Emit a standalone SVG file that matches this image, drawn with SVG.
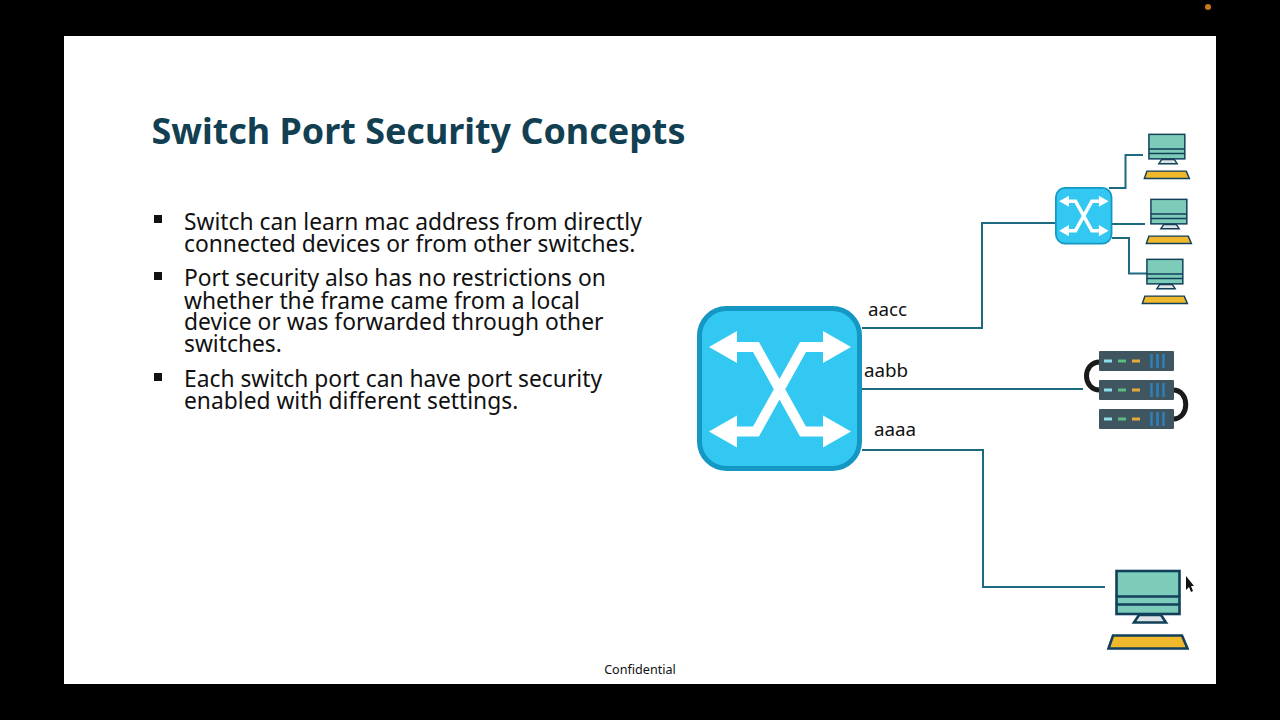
<svg xmlns="http://www.w3.org/2000/svg" xmlns:xlink="http://www.w3.org/1999/xlink" width="1280" height="720" viewBox="0 0 1280 720">
<style>
text{font-family:"Noto Sans","Open Sans","Liberation Sans",sans-serif;fill:#111}
.title{font-size:35.900px;font-weight:700;fill:#123f52}
.body{font-size:22.800px}
.lab{font-size:18.800px}
.conn{fill:none;stroke:#1d6a80;stroke-width:2}
.bez{fill:#33c8f2;stroke:#1597c4;stroke-width:5}
.arr{fill:none;stroke:#fff;stroke-width:10;stroke-linejoin:miter}
.bar{fill:#3f5560}
.cable{fill:none;stroke:#1a1a1a;stroke-width:5}
.scr{fill:#7dccb9;stroke:#123f5a;stroke-width:2.600}
.ln{stroke:#123f5a;stroke-width:2.600;fill:none}
.std{fill:#dde3e6;stroke:#123f5a;stroke-width:2.600}
.kbd{fill:#f0b92d;stroke:#123f5a;stroke-width:2.600}
</style>
<defs>
<symbol id="sw" overflow="visible">
<rect class="bez" x="2.500" y="2.500" width="160" height="160" rx="27"/>
<path class="arr" d="M40 41H59L106 125.500H126M126 41H106L59 125.500H40"/>
<path fill="#fff" d="M12 41L40 25V57ZM154 41L126 25V57ZM12 125.500L40 109.500V141.500ZM154 125.500L126 109.500V141.500Z"/>
</symbol>
<symbol id="pc" overflow="visible">
<rect class="scr" x="9.500" y="1.500" width="63" height="43"/>
<path class="ln" d="M9.500 27H72.500M9.500 35H72.500"/>
<path class="std" d="M32 45.500H54L59 53H27Z"/>
<path class="kbd" d="M6 66H75L80.500 79H1.500Z"/>
</symbol>
</defs>
<rect width="1280" height="720" fill="#000"/>
<circle cx="1208" cy="7" r="3" fill="#c8761e"/>
<rect x="64" y="36" width="1152" height="648" fill="#fff"/>
<text class="title" x="151.500" y="144">Switch Port Security Concepts</text>
<g fill="#111">
<rect x="154" y="215" width="8" height="8"/>
<rect x="154" y="272" width="8" height="8"/>
<rect x="154" y="373" width="8" height="8"/>
</g>
<g>
<text class="body" x="184" y="229.500">Switch can learn mac address from directly</text>
<text class="body" x="184" y="252">connected devices or from other switches.</text>
<text class="body" x="184" y="285.500">Port security also has no restrictions on</text>
<text class="body" x="184" y="308.500">whether the frame came from a local</text>
<text class="body" x="184" y="330">device or was forwarded through other</text>
<text class="body" x="184" y="352">switches.</text>
<text class="body" x="184" y="386.500">Each switch port can have port security</text>
<text class="body" x="184" y="408.500">enabled with different settings.</text>
</g>
<g id="connectors">
<path class="conn" d="M862 328H982V223H1055"/>
<path class="conn" d="M862 389H1083"/>
<path class="conn" d="M862 450H983V587H1105"/>
<path class="conn" d="M1109 188H1125.500V155H1143"/>
<path class="conn" d="M1112 224H1145"/>
<path class="conn" d="M1112 238H1129V273.500H1147"/>
</g>
<g id="switch-main"><use href="#sw" x="697" y="306"/></g>
<g id="switch-small"><use href="#sw" transform="translate(1055 187) scale(.348)"/></g>
<g id="pc-1"><use href="#pc" transform="translate(1143.500 133.500) scale(.57)"/></g>
<g id="pc-2"><use href="#pc" transform="translate(1145.500 198.500) scale(.57)"/></g>
<g id="pc-3"><use href="#pc" transform="translate(1141.500 258.500) scale(.57)"/></g>
<g id="server">
<path class="cable" d="M1100 362C1082 362 1082 390 1100 390"/>
<path class="cable" d="M1173 390C1190 390 1190 419 1173 419"/>
<rect class="bar" x="1099" y="351" width="75" height="20" rx="1"/>
<rect class="bar" x="1099" y="380" width="75" height="20" rx="1"/>
<rect class="bar" x="1099" y="409" width="75" height="20" rx="1"/>
<g id="leds">
<path d="M1104 361h8" stroke="#8fdcea" stroke-width="3"/><path d="M1118 361h8" stroke="#5dbb7f" stroke-width="3"/><path d="M1132 361h8" stroke="#e8a93c" stroke-width="3"/>
<path d="M1104 390h8" stroke="#8fdcea" stroke-width="3"/><path d="M1118 390h8" stroke="#5dbb7f" stroke-width="3"/><path d="M1132 390h8" stroke="#e8a93c" stroke-width="3"/>
<path d="M1104 419h8" stroke="#8fdcea" stroke-width="3"/><path d="M1118 419h8" stroke="#5dbb7f" stroke-width="3"/><path d="M1132 419h8" stroke="#e8a93c" stroke-width="3"/>
<path d="M1151.500 354v14M1157.500 354v14M1163.500 354v14M1151.500 383v14M1157.500 383v14M1163.500 383v14M1151.500 412v14M1157.500 412v14M1163.500 412v14" stroke="#2f80b8" stroke-width="2.500"/>
</g>
</g>
<g id="pc-main"><use href="#pc" x="1107" y="569.500"/></g>
<text class="lab" x="868" y="316">aacc</text>
<text class="lab" x="864" y="377">aabb</text>
<text class="lab" x="874" y="436">aaaa</text>
<text x="640" y="674" text-anchor="middle" font-size="12.600">Confidential</text>
<path d="M1186 576V590L1189 587L1191 592L1193 591L1191 586H1194Z" fill="#111"/>
</svg>
